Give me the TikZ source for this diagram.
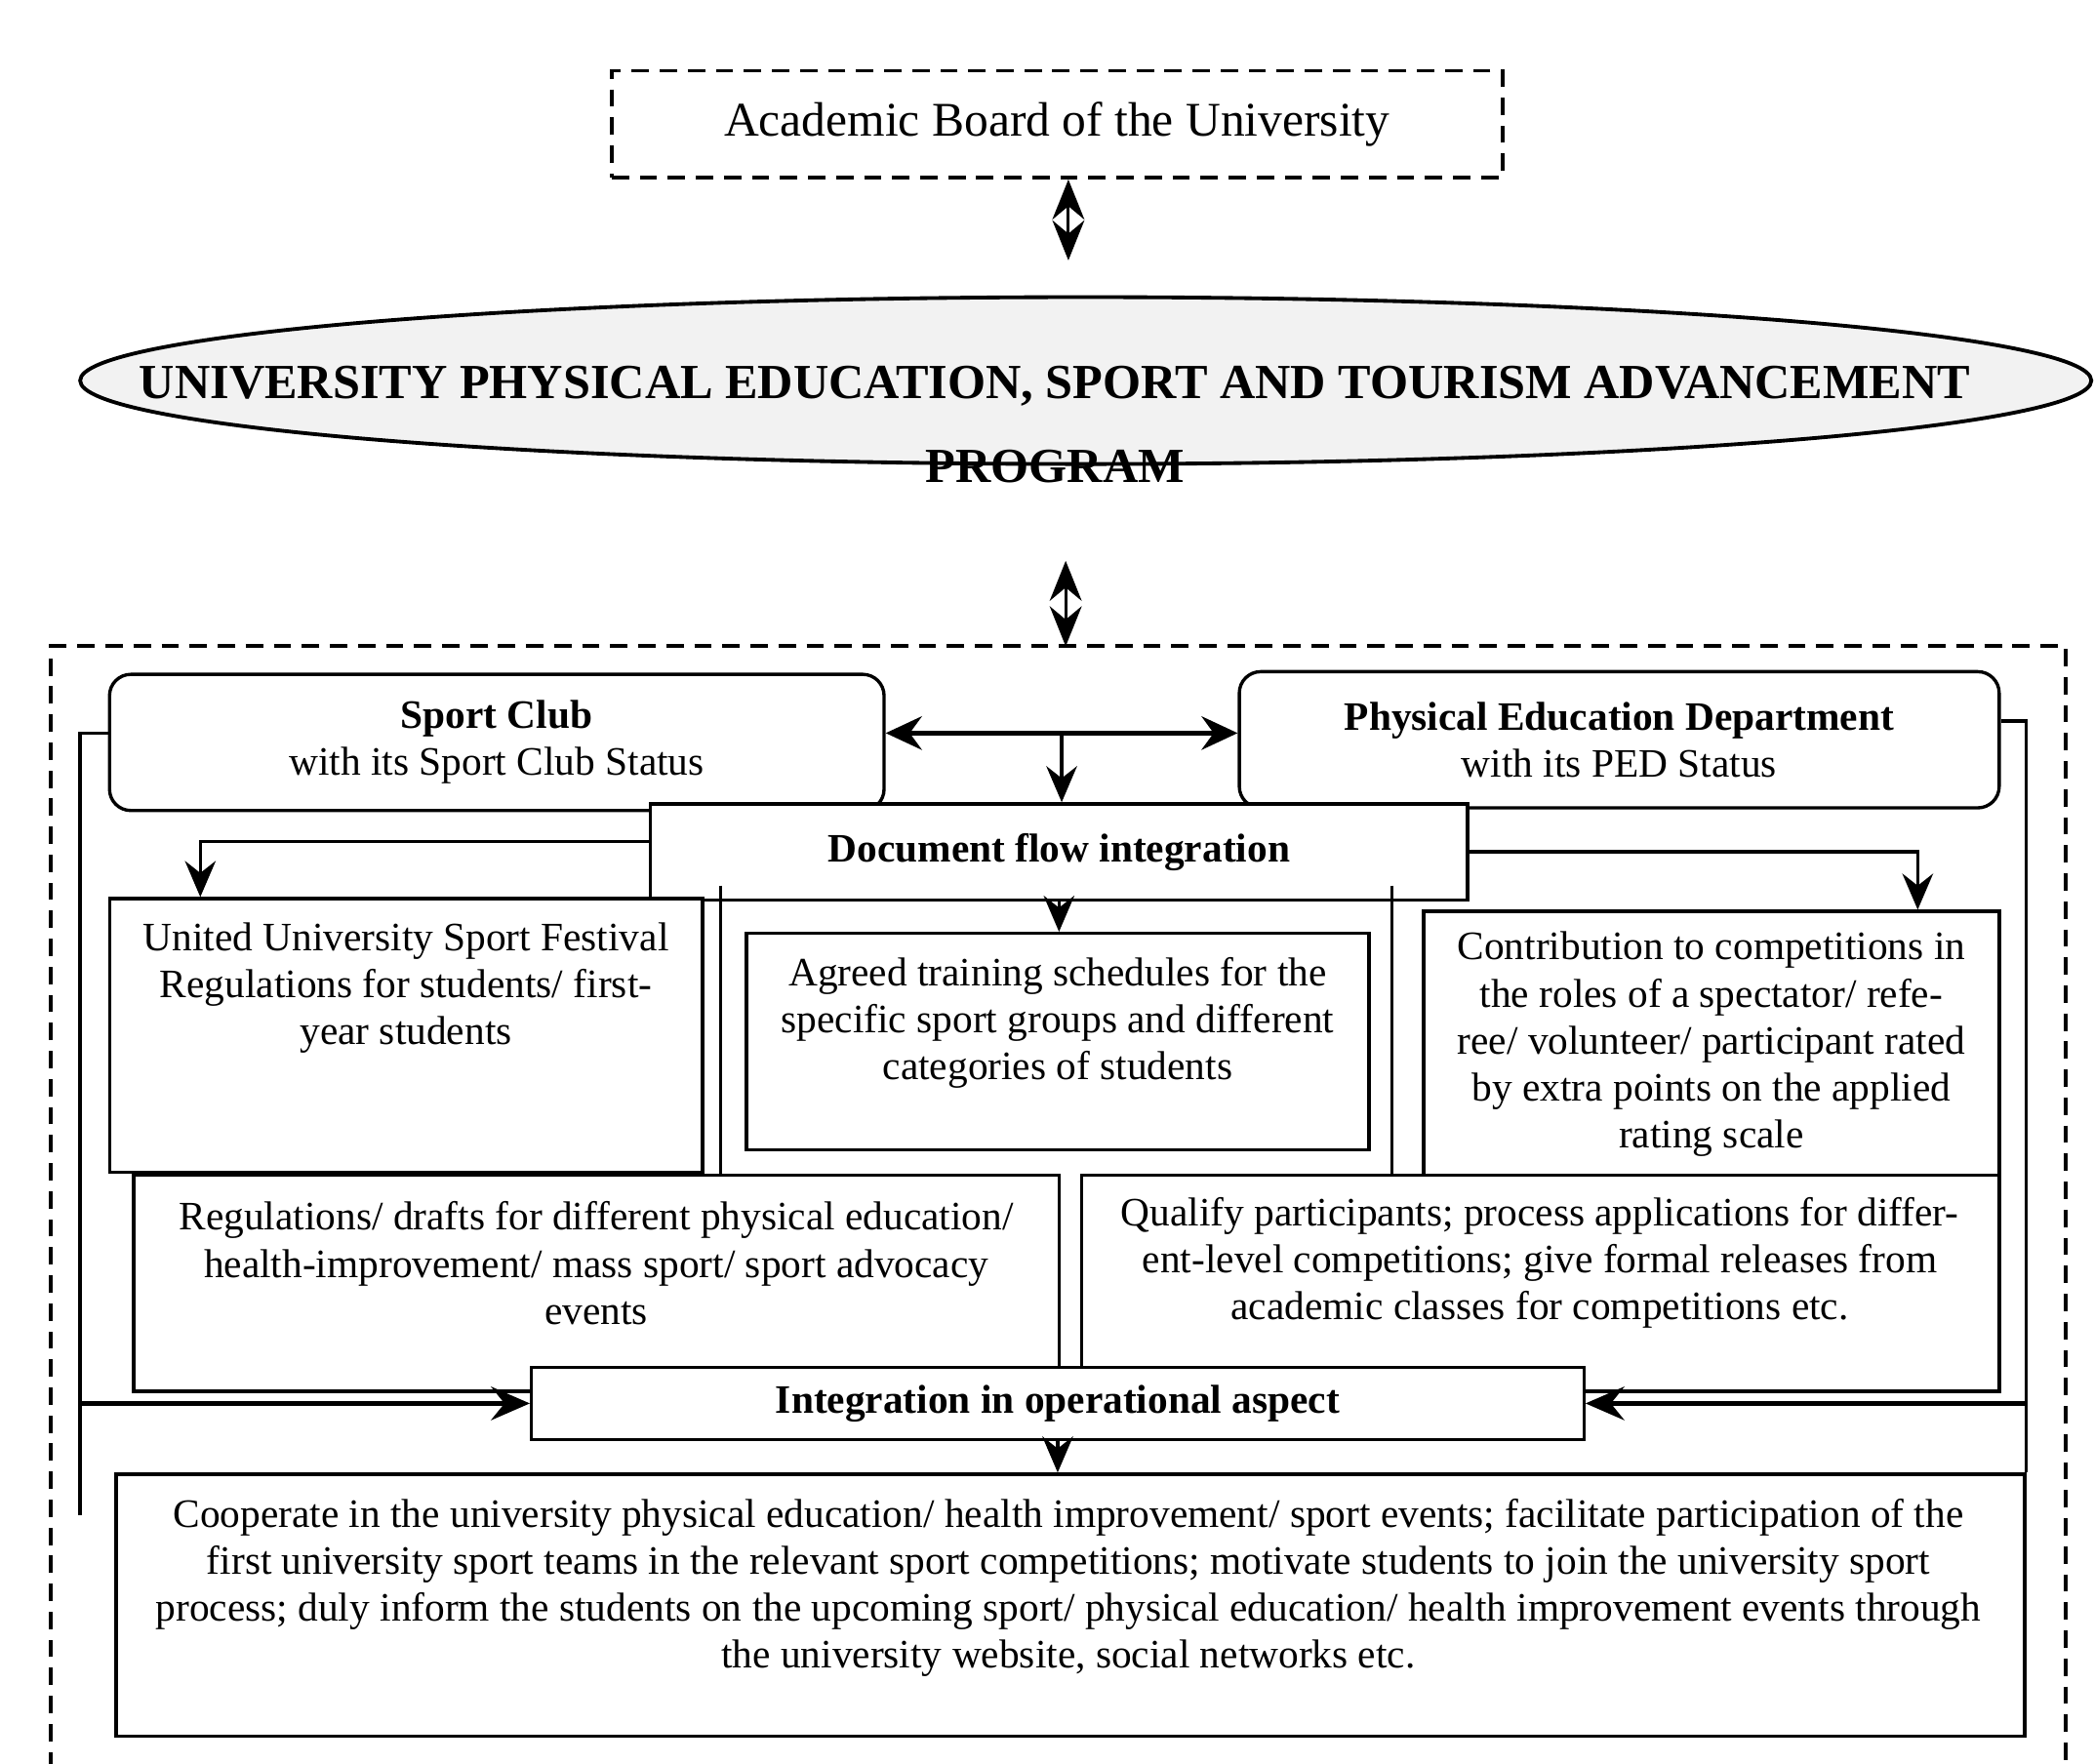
\documentclass[tikz,border=0pt]{standalone}
\usepackage{fontspec}
\setmainfont{Liberation Serif}
\usetikzlibrary{arrows.meta,shapes.geometric}

\begin{document}
\begin{tikzpicture}[x=0.1mm,y=-0.1mm,
    box/.style={draw,line width=0.7pt,fill=white,inner sep=0pt},
    rbox/.style={box,rounded corners=1.6mm},
    txt/.style={font=\fontsize{8.6}{10}\selectfont,align=center,inner sep=0pt},
    bold/.style={font=\bfseries\fontsize{8.6}{10}\selectfont},
    link/.style={line width=0.7pt},
    arr/.style={link,-{Stealth[length=2.7mm,width=2.3mm,inset=0.9mm]}},
    bigarr/.style={line width=1.2pt,-{Stealth[length=2.9mm,width=2.5mm,inset=1mm]}},
    twoway/.style={line width=1.1pt,{Stealth[length=2.7mm,width=2.5mm,inset=0.9mm]}-{Stealth[length=2.7mm,width=2.5mm,inset=0.9mm]}},
    updown/.style={line width=0.6pt,{Stealth[length=3mm,width=2.4mm,inset=1mm]}-{Stealth[length=3mm,width=2.4mm,inset=1mm]}},
    dashline/.style={line width=0.8pt,dash pattern=on 1.3mm off 0.8mm}]
      \useasboundingbox (0,0) rectangle (1568,1321);
      \node[box,dashline,minimum width=66.7mm,minimum height=8mm,
        font=\fontsize{10.3}{12}\selectfont] (board) at (791.5,93)
        {Academic Board of the University};
      \node[draw,ellipse,line width=0.8pt,fill=black!5,inner sep=0pt,
        minimum width=150.6mm,minimum height=12.5mm] (program) at (813,285) {};
      \node[font=\bfseries\fontsize{10.45}{17.9}\selectfont,align=center,
        inner sep=0pt] (progtxt) at (790,318)
        {UNIVERSITY PHYSICAL EDUCATION, SPORT AND TOURISM ADVANCEMENT\\PROGRAM};
      \coordinate (a1) at (800,195);
      \coordinate (a2) at (798,420);
      \coordinate (frametop) at (798,484);
      \draw[updown] (board.south -| a1) -- (a1);
      \draw[updown] (a2) -- (frametop);
      \draw[dashline] (38,1325) -- (38,484) -- (1547,484) -- (1547,1325);
      \node[rbox,txt,minimum width=58mm,minimum height=10.2mm] (club)
        at (372,556) {\textbf{Sport Club}\\with its Sport Club Status};
      \node[rbox,txt,minimum width=56.9mm,minimum height=10.2mm] (ped)
        at (1212.5,554) {\textbf{Physical Education Department}\\with its PED Status};
      \node[box,txt,bold,minimum width=61.2mm,minimum height=7.2mm] (docflow)
        at (793,638) {Document flow integration};
      \node[box,minimum width=44.4mm,minimum height=20.5mm] (united) at (304,775.5) {};
      \node[txt] (unitedtxt) at (304,740)
        {United University Sport Festival\\Regulations for students/ first-\\year students};
      \node[box,minimum width=46.6mm,minimum height=16.2mm] (agreed) at (792,780) {};
      \node[txt] (agreedtxt) at (792,766)
        {Agreed training schedules for the\\specific sport groups and different\\categories of students};
      \node[box,txt,minimum width=43.1mm,minimum height=19.9mm] (contrib)
        at (1281.5,782) {Contribution to competitions in\\the roles of a spectator/ refe-\\ree/
        volunteer/ participant rated\\by extra points on the applied\\rating scale};
      \node[box,minimum width=69.3mm,minimum height=16.2mm] (regs) at (446.5,961) {};
      \node[txt] (regstxt) at (446.5,946)
        {Regulations/ drafts for different physical education/\\health-improvement/
        mass sport/ sport advocacy\\events};
      \node[box,minimum width=68.7mm,minimum height=16.2mm] (qualify) at (1153.5,961) {};
      \node[txt] (qualifytxt) at (1153,946)
        {Qualify participants; process applications for differ-\\ent-level competitions;
        give formal releases from\\academic classes for competitions etc.};
      \node[box,txt,bold,minimum width=78.8mm,minimum height=5.4mm] (integ)
        at (792,1051) {\raisebox{-0.5mm}{Integration in operational aspect}};
      \node[box,minimum width=142.9mm,minimum height=19.6mm] (coop) at (801.5,1202) {};
      \node[txt] (cooptxt) at (800,1189)
        {Cooperate in the university physical education/ health improvement/ sport events;
        facilitate participation of the\\first university sport teams in the relevant sport
        competitions; motivate students to join the university sport\\process; duly inform
        the students on the upcoming sport/ physical education/ health improvement events
        through\\the university website, social networks etc.};
      \coordinate (hub) at (795,549);
      \draw[twoway] (club.east |- hub) -- (ped.west |- hub);
      \draw[arr] (hub) -- (hub |- docflow.north);
      \draw[arr] ([yshift=0.8mm]docflow.west) -| ([xshift=-15.4mm]united.north);
      \draw[arr] (docflow.south) -- (docflow.south |- agreed.north);
      \draw[arr] (docflow.east) -| ([xshift=15.45mm]contrib.north);
      \coordinate (col1) at ([xshift=5.4mm,yshift=1.2mm]docflow.south west);
      \coordinate (col2) at ([xshift=-5.8mm,yshift=1.2mm]docflow.south east);
      \draw[link] (col1) -- (col1 |- regs.north);
      \draw[link] (col2) -- (col2 |- qualify.north);
      \coordinate (lbus) at (60,1135);
      \draw[link] ([yshift=0.7mm]club.west) -| (lbus);
      \draw[bigarr] (lbus |- integ.west) -- (integ.west);
      \draw[link] ([yshift=1.4mm]ped.east) -| (coop.north east);
      \draw[bigarr] (coop.east |- integ.east) -- (integ.east);
      \draw[arr] (integ.south) -- (integ.south |- coop.north);
    \end{tikzpicture}
\end{document}
